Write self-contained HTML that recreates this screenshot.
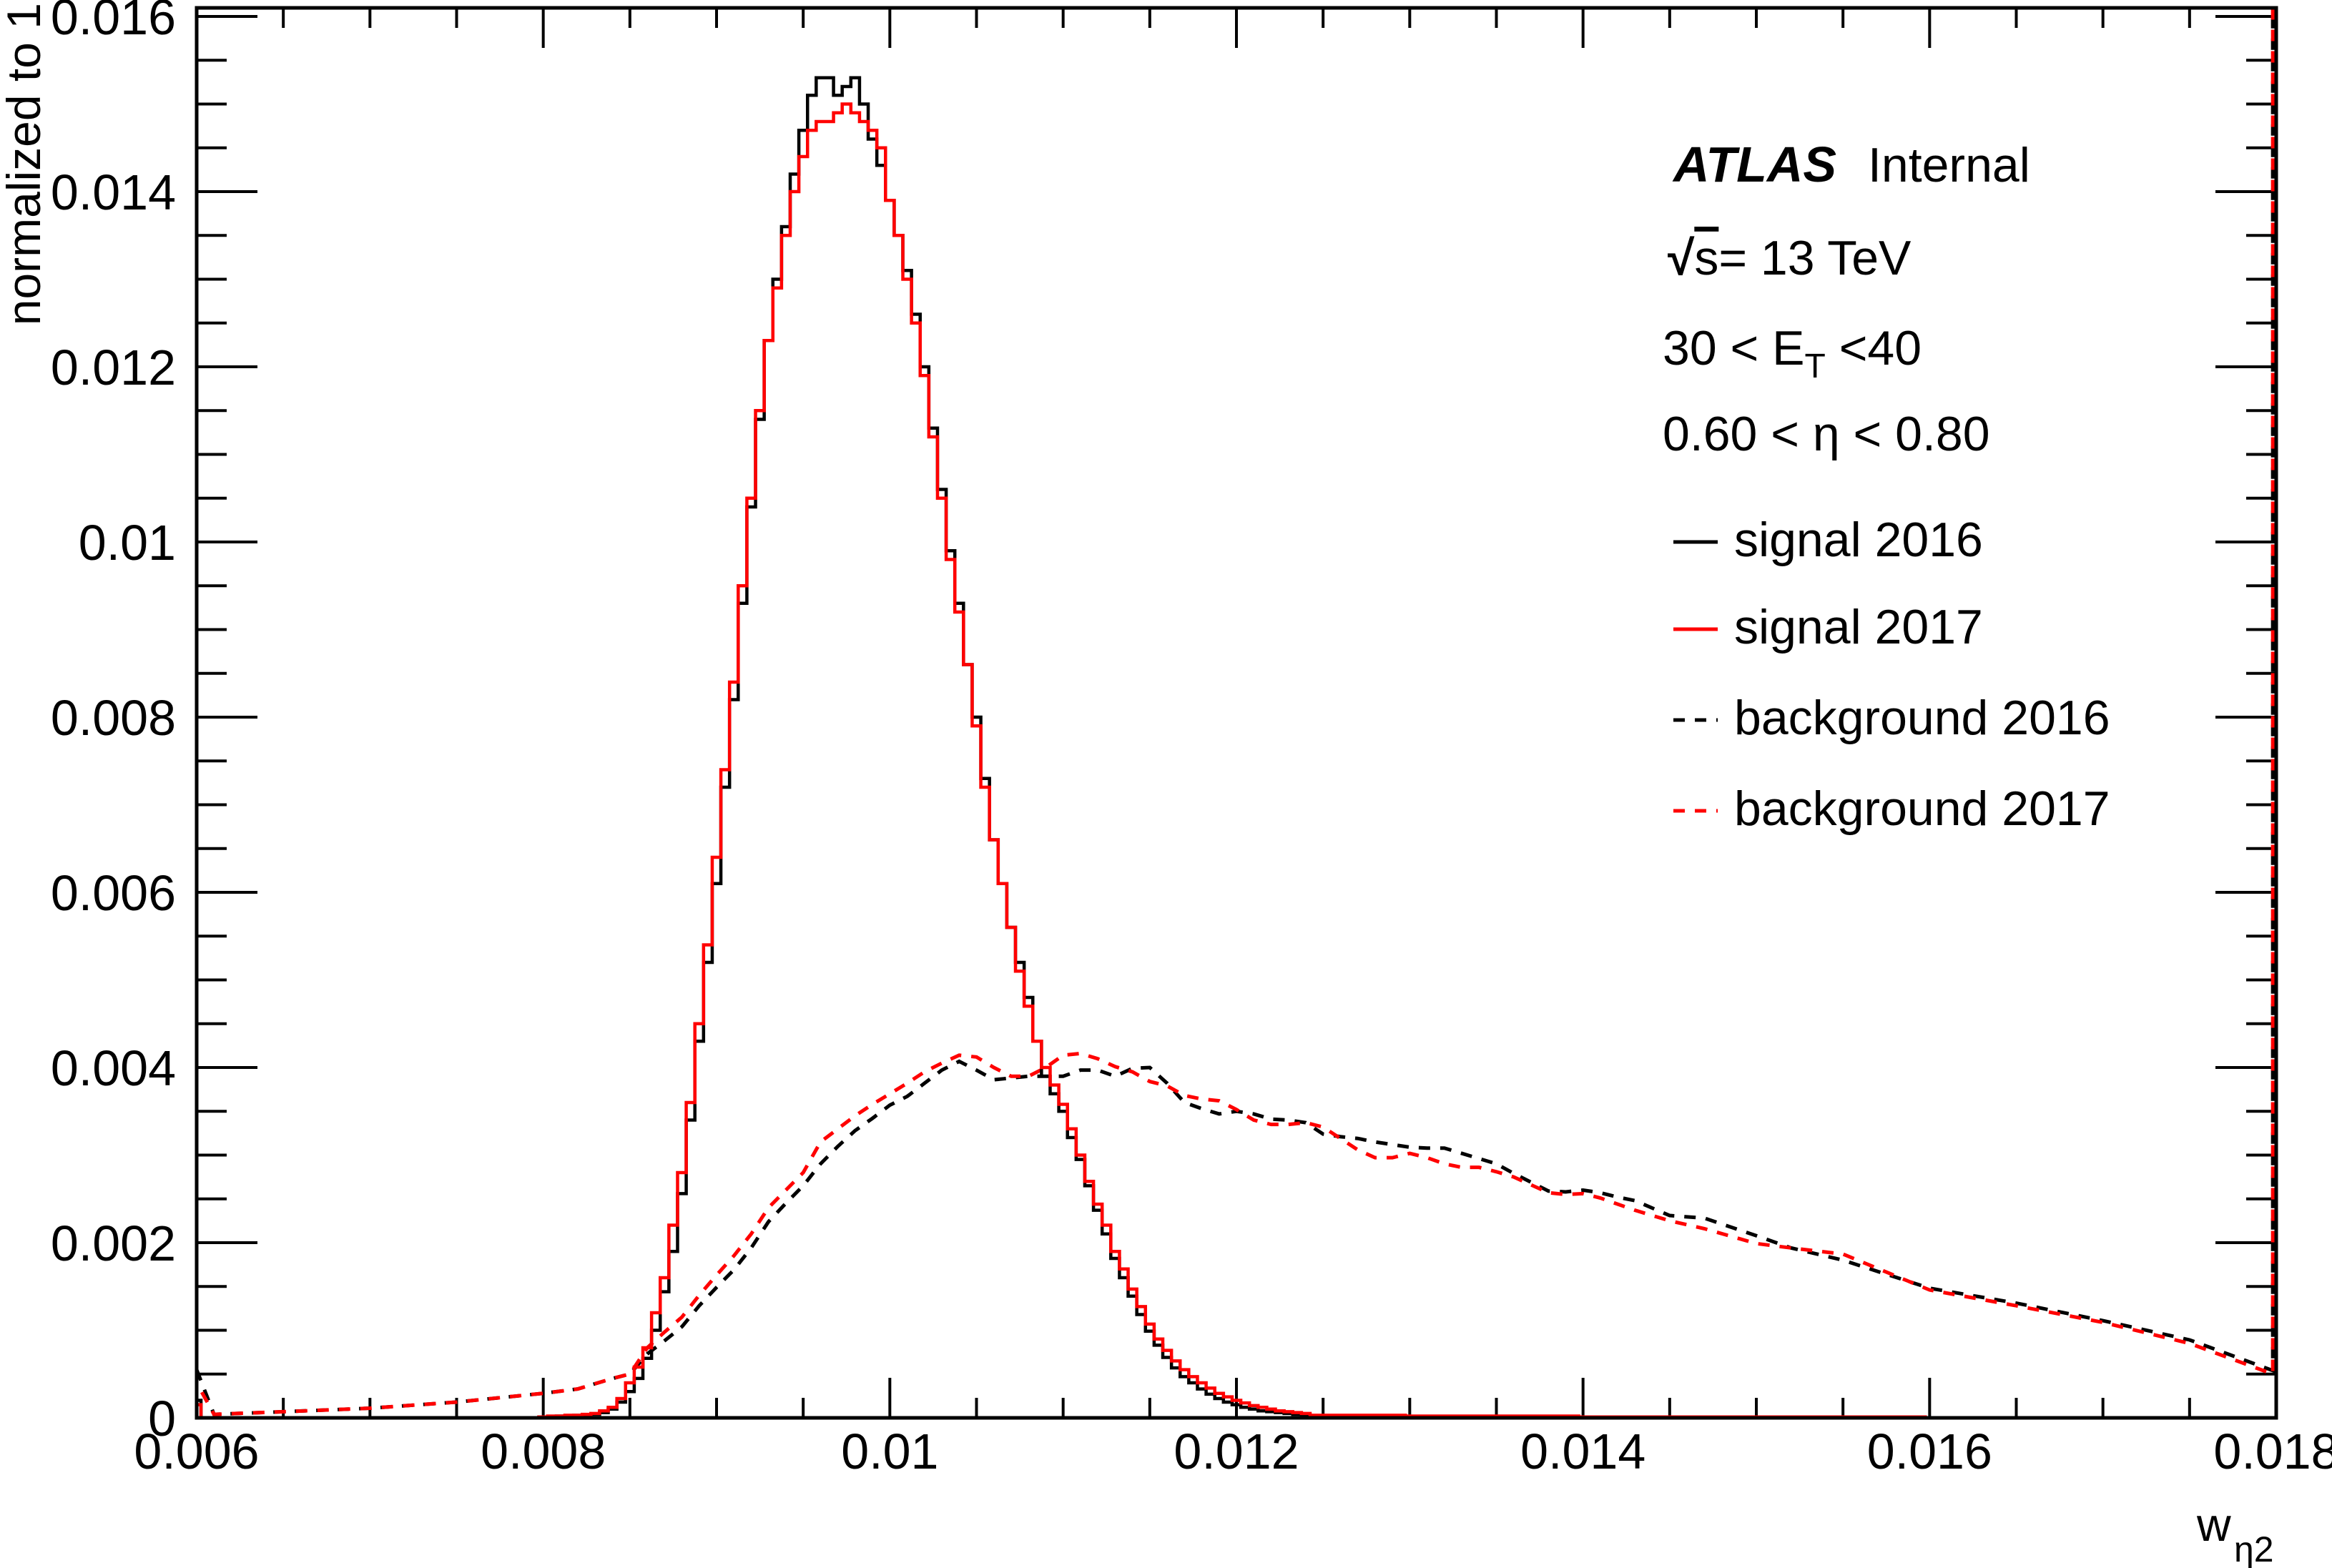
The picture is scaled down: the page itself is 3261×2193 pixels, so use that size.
<!DOCTYPE html>
<html><head><meta charset="utf-8"><style>
html,body{margin:0;padding:0;background:#fff;}
svg{display:block;font-family:"Liberation Sans",Arial,sans-serif;}
</style></head><body>
<svg id="chart" width="3261" height="2193" viewBox="0 0 3261 2193" xmlns="http://www.w3.org/2000/svg">
<defs><clipPath id="plotclip"><rect x="275" y="11" width="2908" height="1972"/></clipPath></defs>
<rect width="3261" height="2193" fill="#fff"/>
<g id="ticks"></g>
<g id="labels" font-size="70"></g>
<g id="series" clip-path="url(#plotclip)"></g>
<rect x="275" y="11" width="2908" height="1972" fill="none" stroke="#000" stroke-width="5"/>
<text x="56" y="4" transform="rotate(-90 56 4)" text-anchor="end" font-size="66">normalized to 1</text>
<g><text x="3072" y="2155" font-size="66">w</text><text x="3124" y="2184" font-size="50">η2</text></g>
<g>
<text x="2340" y="254" font-size="70" font-weight="bold" font-style="italic">ATLAS</text>
<text x="2612" y="254" font-size="68">Internal</text>
</g>
<g font-size="68">
<text x="2332" y="384"><tspan font-weight="bold">√</tspan><tspan text-decoration="overline">s</tspan>= 13 TeV</text>
</g>
<text x="2325" y="510" font-size="68">30 &lt; E<tspan font-size="48" dy="18">T</tspan><tspan dy="-18"> &lt;40</tspan></text>
<text x="2325" y="630" font-size="68">0.60 &lt; η &lt; 0.80</text>
<g id="legend" font-size="68">
<g><line x1="2340" y1="758" x2="2402" y2="758" stroke="#000" stroke-width="5"/><text x="2425" y="778">signal 2016</text></g>
<g><line x1="2340" y1="880" x2="2402" y2="880" stroke="#f00" stroke-width="5"/><text x="2425" y="900">signal 2017</text></g>
<g><line x1="2340" y1="1007" x2="2402" y2="1007" stroke="#000" stroke-width="5" stroke-dasharray="16 14"/><text x="2425" y="1027">background 2016</text></g>
<g><line x1="2340" y1="1134" x2="2402" y2="1134" stroke="#f00" stroke-width="5" stroke-dasharray="16 14"/><text x="2425" y="1154">background 2017</text></g>
</g>
</svg>
<script>
const xTickLabels = ["0.006","0.008","0.01","0.012","0.014","0.016","0.018"];
const yTickLabels = ["0","0.002","0.004","0.006","0.008","0.01","0.012","0.014","0.016"];
const binStart = 0.006;
const binWidth = 0.00005;
const signal2016 = [0.0002,
0,0,0,0,0,0,0,0,0,0,0,0,0,0,0,0,0,0,0,0,0,0,0,0,0,0,0,0,0,0,0,0,0,0,0,0,0,0,0,
0.00001,0.00001,0.00002,0.00002,0.00003,0.00003,0.00004,0.00006,0.0001,0.00018,
0.0003,0.00045,0.00068,0.001,0.00144,0.0019,0.00256,0.0034,0.0043,0.0052,
0.0061,0.0072,0.0082,0.0093,0.0104,0.0114,0.0123,0.0130,0.0136,0.0142,
0.0147,0.0151,0.0153,0.0153,0.0151,0.0152,0.0153,0.0150,0.0146,0.0143,
0.0139,0.0135,0.0131,0.0126,0.0120,0.0113,0.0106,0.0099,0.0093,0.0086,
0.0080,0.0073,0.0066,0.0061,0.0056,0.0052,0.0048,0.0043,0.0039,0.0037,
0.0035,0.0032,0.00295,0.00265,0.00237,0.0021,0.00182,0.0016,0.00139,0.00118,
0.00099,0.00083,0.00069,0.00057,0.00047,0.0004,0.00033,0.00027,0.00022,0.00018,
0.00015,0.00012,0.0001,0.00008,0.00007,0.00006,0.00005,0.00004,0.00003,
0.00002,0.00002,0.00002,0.00002,0.00002,0.00002,0.00002,0.00002,0.00002,0.00002,0.00002,
0.00001,0.00001,0.00001,0.00001,0.00001,0.00001,0.00001,0.00001,0.00001,0.00001,0.00001,0.00001,0.00001,0.00001,0.00001,0.00001,0.00001,0.00001,0.00001,0.00001,
0,0,0,0,0,0,0,0,0,0,0,0,0,0,0,0,0,0,0,0,0,0,0,0,0,0,0,0,0,0,0,0,0,0,0,0,0,0,0,0,
0,0,0,0,0,0,0,0,0,0,0,0,0,0,0,0,0,0,0,0,0,0,0,0,0,0,0,0,0,0,0,0,0,0,0,0,0,0,0,0];
const signal2017 = [0.00015,
0,0,0,0,0,0,0,0,0,0,0,0,0,0,0,0,0,0,0,0,0,0,0,0,0,0,0,0,0,0,0,0,0,0,0,0,0,0,0,
0.00001,0.00002,0.00002,0.00003,0.00003,0.00004,0.00005,0.00008,0.00012,0.00022,
0.0004,0.00058,0.0008,0.0012,0.0016,0.0022,0.0028,0.0036,0.0045,0.0054,
0.0064,0.0074,0.0084,0.0095,0.0105,0.0115,0.0123,0.0129,0.0135,0.0140,
0.0144,0.0147,0.0148,0.0148,0.0149,0.0150,0.0149,0.0148,0.0147,0.0145,
0.0139,0.0135,0.0130,0.0125,0.0119,0.0112,0.0105,0.0098,0.0092,0.0086,
0.0079,0.0072,0.0066,0.0061,0.0056,0.0051,0.0047,0.0043,0.0040,0.0038,
0.00358,0.0033,0.0030,0.0027,0.00244,0.0022,0.0019,0.0017,0.00147,0.00127,
0.00107,0.0009,0.00077,0.00065,0.00055,0.00047,0.0004,0.00034,0.00028,0.00024,
0.0002,0.00017,0.00014,0.00012,0.0001,0.00008,0.00007,0.00006,0.00005,
0.00003,0.00003,0.00003,0.00003,0.00003,0.00003,0.00003,0.00003,0.00003,0.00003,0.00003,
0.00002,0.00002,0.00002,0.00002,0.00002,0.00002,0.00002,0.00002,0.00002,0.00002,0.00002,0.00002,0.00002,0.00002,0.00002,0.00002,0.00002,0.00002,0.00002,0.00002,
0.00001,0.00001,0.00001,0.00001,0.00001,0.00001,0.00001,0.00001,0.00001,0.00001,0.00001,0.00001,0.00001,0.00001,0.00001,0.00001,0.00001,0.00001,0.00001,0.00001,
0.00001,0.00001,0.00001,0.00001,0.00001,0.00001,0.00001,0.00001,0.00001,0.00001,0.00001,0.00001,0.00001,0.00001,0.00001,0.00001,0.00001,0.00001,0.00001,0.00001,
0,0,0,0,0,0,0,0,0,0,0,0,0,0,0,0,0,0,0,0,0,0,0,0,0,0,0,0,0,0,0,0,0,0,0,0,0,0,0,0];
const bkgX = [0.006,0.0061,0.0065,0.007,0.0075,0.0078,0.008,0.0082,0.0084,0.0085,0.0086,0.0087,0.0088,0.0089,0.009,0.0091,0.0092,0.0093,0.0094,0.0095,0.0096,0.0097,0.0098,0.0099,0.01,0.0101,0.0102,0.0103,0.0104,0.0105,0.0106,0.0107,0.0108,0.0109,0.011,0.0111,0.0112,0.0113,0.0114,0.0115,0.0116,0.0117,0.0118,0.0119,0.012,0.0121,0.0122,0.0123,0.0124,0.0125,0.0126,0.0127,0.0128,0.0129,0.013,0.0131,0.0132,0.0133,0.0134,0.0135,0.0136,0.0137,0.0138,0.0139,0.014,0.0141,0.0142,0.0143,0.0145,0.0147,0.015,0.0152,0.0155,0.016,0.0165,0.017,0.0175,0.01798,0.01798];
const background2016 = [0.00055,0.00004,0.00007,0.00011,0.00018,0.00024,0.00028,0.00033,0.00045,0.0005,0.00073,0.00088,0.00104,0.00128,0.00149,0.00169,0.00194,0.00224,0.00245,0.00265,0.0029,0.0031,0.00328,0.00342,0.00357,0.00367,0.00382,0.00397,0.00407,0.00397,0.00386,0.00388,0.0039,0.0039,0.0039,0.00397,0.00397,0.0039,0.00399,0.004,0.00382,0.0036,0.00353,0.00347,0.0035,0.00347,0.00341,0.0034,0.00337,0.00324,0.00321,0.00319,0.00315,0.00312,0.00309,0.00308,0.00308,0.00302,0.00296,0.0029,0.00279,0.00269,0.00259,0.00258,0.0026,0.00257,0.00252,0.00248,0.00231,0.00228,0.00208,0.00194,0.0018,0.00148,0.00131,0.00111,0.00089,0.00054,0.02];
const background2017 = [0.0004,0.00004,0.00007,0.00011,0.00018,0.00024,0.00028,0.00033,0.00045,0.0005,0.0008,0.00098,0.00115,0.0014,0.00163,0.00185,0.0021,0.0024,0.0026,0.0028,0.00315,0.0033,0.00345,0.00358,0.0037,0.00382,0.00395,0.00405,0.00414,0.00412,0.004,0.0039,0.0039,0.004,0.00414,0.00416,0.0041,0.00401,0.00395,0.00384,0.00379,0.00368,0.00364,0.00362,0.00352,0.0034,0.00335,0.00335,0.00337,0.00332,0.00319,0.00306,0.00297,0.00297,0.00302,0.00297,0.0029,0.00286,0.00286,0.00281,0.00275,0.00266,0.00257,0.00255,0.00256,0.00251,0.00244,0.00237,0.00225,0.00216,0.00199,0.00194,0.00187,0.00146,0.00128,0.00109,0.00085,0.0005,0.02];

const NS='http://www.w3.org/2000/svg';
const X0=275,X1=3183,XMIN=0.006,XMAX=0.018;
const Y0=1983,YPER=122500;
function sx(v){return X0+(v-XMIN)/(XMAX-XMIN)*(X1-X0);}
function sy(v){return Y0-v*YPER;}
function mk(tag,attrs,parent){const e=document.createElementNS(NS,tag);for(const k in attrs)e.setAttribute(k,attrs[k]);parent.appendChild(e);return e;}

const ticks=document.getElementById('ticks');
const labels=document.getElementById('labels');
let td='';
for(let i=0;i<=24;i++){const v=XMIN+i*0.0005;const x=sx(v);const L=(i%4===0)?56:28;
 td+=`M${x} ${Y0}V${Y0-L}M${x} 11V${11+L}`;}
for(let i=0;i<=32;i++){const v=i*0.0005;const y=sy(v);if(y<11)continue;const L=(i%4===0)?85:42;
 td+=`M${X0} ${y}H${X0+L}M${X1} ${y}H${X1-L}`;}
const tp=mk('path',{d:td,stroke:'#000','stroke-width':4,fill:'none'},ticks);


xTickLabels.forEach((t,i)=>{const e=mk('text',{x:sx(XMIN+i*0.002),y:2054,'text-anchor':'middle'},labels);e.textContent=t;
 
 });
yTickLabels.forEach((t,i)=>{const e=mk('text',{x:246,y:sy(i*0.002)+25,'text-anchor':'end'},labels);e.textContent=t;
 
 });

const series=document.getElementById('series');
function stepPath(vals){let d='';vals.forEach((v,i)=>{const c=binStart+i*binWidth;const a=sx(c-binWidth/2),b=sx(c+binWidth/2);const y=sy(v);
 d+=(i===0?`M${a} ${y}`:`L${a} ${y}`)+`L${b} ${y}`;});return d;}
function linePath(xs,vals){return xs.map((x,i)=>(i?'L':'M')+sx(x)+' '+sy(vals[i])).join('');}
const b16=mk('path',{d:linePath(bkgX,background2016),stroke:'#000','stroke-width':5,fill:'none','stroke-dasharray':'16 14'},series);


const b17=mk('path',{d:linePath(bkgX,background2017),stroke:'#f00','stroke-width':5,fill:'none','stroke-dasharray':'16 14','stroke-dashoffset':'15'},series);


const s16=mk('path',{d:stepPath(signal2016),stroke:'#000','stroke-width':4.5,fill:'none'},series);


const s17=mk('path',{d:stepPath(signal2017),stroke:'#f00','stroke-width':4.5,fill:'none'},series);


</script>
</body></html>
